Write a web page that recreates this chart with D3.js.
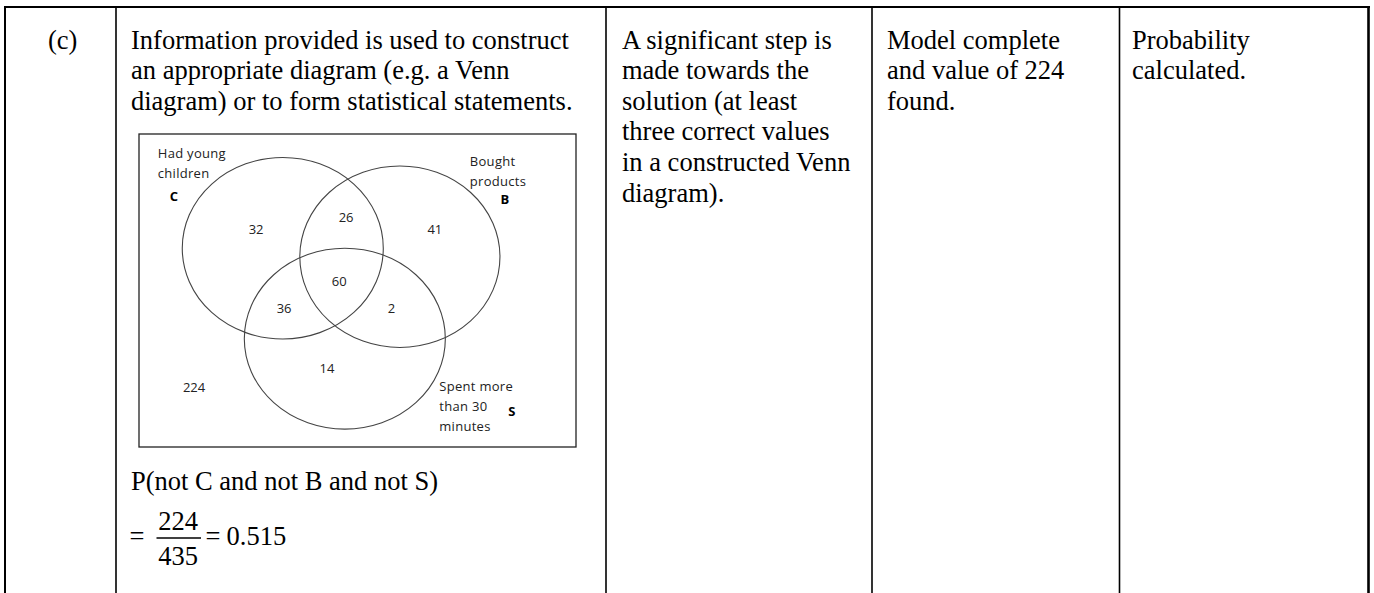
<!DOCTYPE html>
<html>
<head>
<meta charset="utf-8">
<script src="https://cdn.jsdelivr.net/npm/d3@7"></script>
<style>
  html, body { margin: 0; padding: 0; background: #fff; }
  svg { display: block; }
</style>
</head>
<body>
<svg id="chart" width="1374" height="593"></svg>
<script>
// ---------- DATA ----------
const partLabel = "(c)";
const columnTexts = [
  ["Information provided is used to construct",
   "an appropriate diagram (e.g. a Venn",
   "diagram) or to form statistical statements."],
  ["A significant step is", "made towards the", "solution (at least",
   "three correct values", "in a constructed Venn", "diagram)."],
  ["Model complete", "and value of 224", "found."],
  ["Probability", "calculated."]
];
const setNames = ["C", "B", "S"];
const setDescriptions = [["Had young", "children"], ["Bought", "products"], ["Spent more", "than 30", "minutes"]];
const regionNames = ["C only", "C∩B only", "B only", "C∩B∩S", "C∩S only", "B∩S only", "S only", "none"];
const regionValues = [32, 26, 41, 60, 36, 2, 14, 224];
const probabilityText = "P(not C and not B and not S)";
const numerator = 224;
const denominator = 435;
const probability = "0.515";

// ---------- LAYOUT ----------
const svg = d3.select("#chart");
const serif = "'Liberation Serif', 'Times New Roman', serif";
const sans = "'Open Sans', sans-serif";
const FS = 26.5, LH = 30.6;

// table column boundaries
const colX = d3.scaleOrdinal().domain([0,1,2,3,4,5]).range([5, 116, 606, 872, 1119.5, 1368.5]);
const tableTop = 7;

svg.append("line").attr("x1", 4).attr("x2", 1370).attr("y1", tableTop).attr("y2", tableTop)
  .attr("stroke", "#000").attr("stroke-width", 2);
[0,1,2,3,4,5].forEach(i => {
  const outer = (i === 0 || i === 5);
  svg.append("line").attr("x1", colX(i)).attr("x2", colX(i)).attr("y1", tableTop - 1).attr("y2", 593)
    .attr("stroke", "#000").attr("stroke-width", outer ? (i === 5 ? 2.6 : 2) : 1.6);
});

svg.append("text").attr("x", 48).attr("y", 48.5).attr("font-family", serif).attr("font-size", FS)
  .text(partLabel);

const textX = [131, 622, 887, 1132];
columnTexts.forEach((lines, ci) => {
  svg.append("g").selectAll("text").data(lines).join("text")
    .attr("x", textX[ci]).attr("y", (d, i) => 48.5 + i * LH)
    .attr("font-family", serif).attr("font-size", FS).attr("fill", "#000")
    .text(d => d);
});

// ---------- VENN ----------
const box = {x0: 139, y0: 134, x1: 576, y1: 447};
const vx = d3.scaleLinear().domain([0, 1]).range([box.x0, box.x1]);
const vy = d3.scaleLinear().domain([0, 1]).range([box.y0, box.y1]);
const vw = d3.scaleLinear().domain([0, 1]).range([0, box.x1 - box.x0]);
const vh = d3.scaleLinear().domain([0, 1]).range([0, box.y1 - box.y0]);

svg.append("rect").attr("x", box.x0).attr("y", box.y0)
  .attr("width", box.x1 - box.x0).attr("height", box.y1 - box.y0)
  .attr("fill", "none").attr("stroke", "#222").attr("stroke-width", 1.3);

const setCx = [0.329, 0.597, 0.471];
const setCy = [0.365, 0.392, 0.654];
const setRx = [0.230, 0.229, 0.230];
const setRy = [0.290, 0.290, 0.289];

svg.append("g").selectAll("ellipse").data(setNames).join("ellipse")
  .attr("cx", (d, i) => vx(setCx[i])).attr("cy", (d, i) => vy(setCy[i]))
  .attr("rx", (d, i) => vw(setRx[i])).attr("ry", (d, i) => vh(setRy[i]))
  .attr("fill", "none").attr("stroke", "#444").attr("stroke-width", 1.1);

const vennFS = 13;
const regionX = [0.268, 0.474, 0.677, 0.458, 0.332, 0.578, 0.430, 0.126];
const regionY = [0.319, 0.282, 0.319, 0.486, 0.571, 0.571, 0.765, 0.825];
svg.append("g").selectAll("text").data(regionValues).join("text")
  .attr("x", (d, i) => vx(regionX[i])).attr("y", (d, i) => vy(regionY[i]))
  .attr("text-anchor", "middle").attr("font-family", sans).attr("font-size", vennFS)
  .attr("fill", "#222").text(d => d);

const descX = [0.043, 0.757, 0.687];
const descY = [0.077, 0.102, 0.821];
const descLH = 0.0645;
setDescriptions.forEach((lines, si) => {
  svg.append("g").selectAll("text").data(lines).join("text")
    .attr("x", vx(descX[si])).attr("y", (d, i) => vy(descY[si] + i * descLH))
    .attr("font-family", sans).attr("font-size", vennFS).attr("letter-spacing", 0.3)
    .attr("fill", "#222").text(d => d);
});
const letterX = [0.080, 0.837, 0.853];
const letterY = [0.215, 0.223, 0.900];
svg.append("g").selectAll("text").data(setNames).join("text")
  .attr("x", (d, i) => vx(letterX[i])).attr("y", (d, i) => vy(letterY[i]))
  .attr("text-anchor", "middle").attr("font-family", sans).attr("font-weight", "bold")
  .attr("font-size", vennFS).attr("fill", "#000").text(d => d);

// ---------- PROBABILITY ----------
svg.append("text").attr("x", 131).attr("y", 490).attr("font-family", serif).attr("font-size", FS)
  .text(probabilityText);
svg.append("text").attr("x", 129.5).attr("y", 545).attr("font-family", serif).attr("font-size", FS)
  .text("=");
svg.append("text").attr("x", 178).attr("y", 530).attr("text-anchor", "middle")
  .attr("font-family", serif).attr("font-size", FS).text(numerator);
svg.append("line").attr("x1", 156.5).attr("x2", 201).attr("y1", 538).attr("y2", 538)
  .attr("stroke", "#000").attr("stroke-width", 1.4);
svg.append("text").attr("x", 178).attr("y", 564.5).attr("text-anchor", "middle")
  .attr("font-family", serif).attr("font-size", FS).text(denominator);
svg.append("text").attr("x", 205.5).attr("y", 545).attr("font-family", serif).attr("font-size", FS)
  .text("=");
svg.append("text").attr("x", 226.5).attr("y", 545).attr("font-family", serif).attr("font-size", FS)
  .text(probability);
</script>
</body>
</html>
